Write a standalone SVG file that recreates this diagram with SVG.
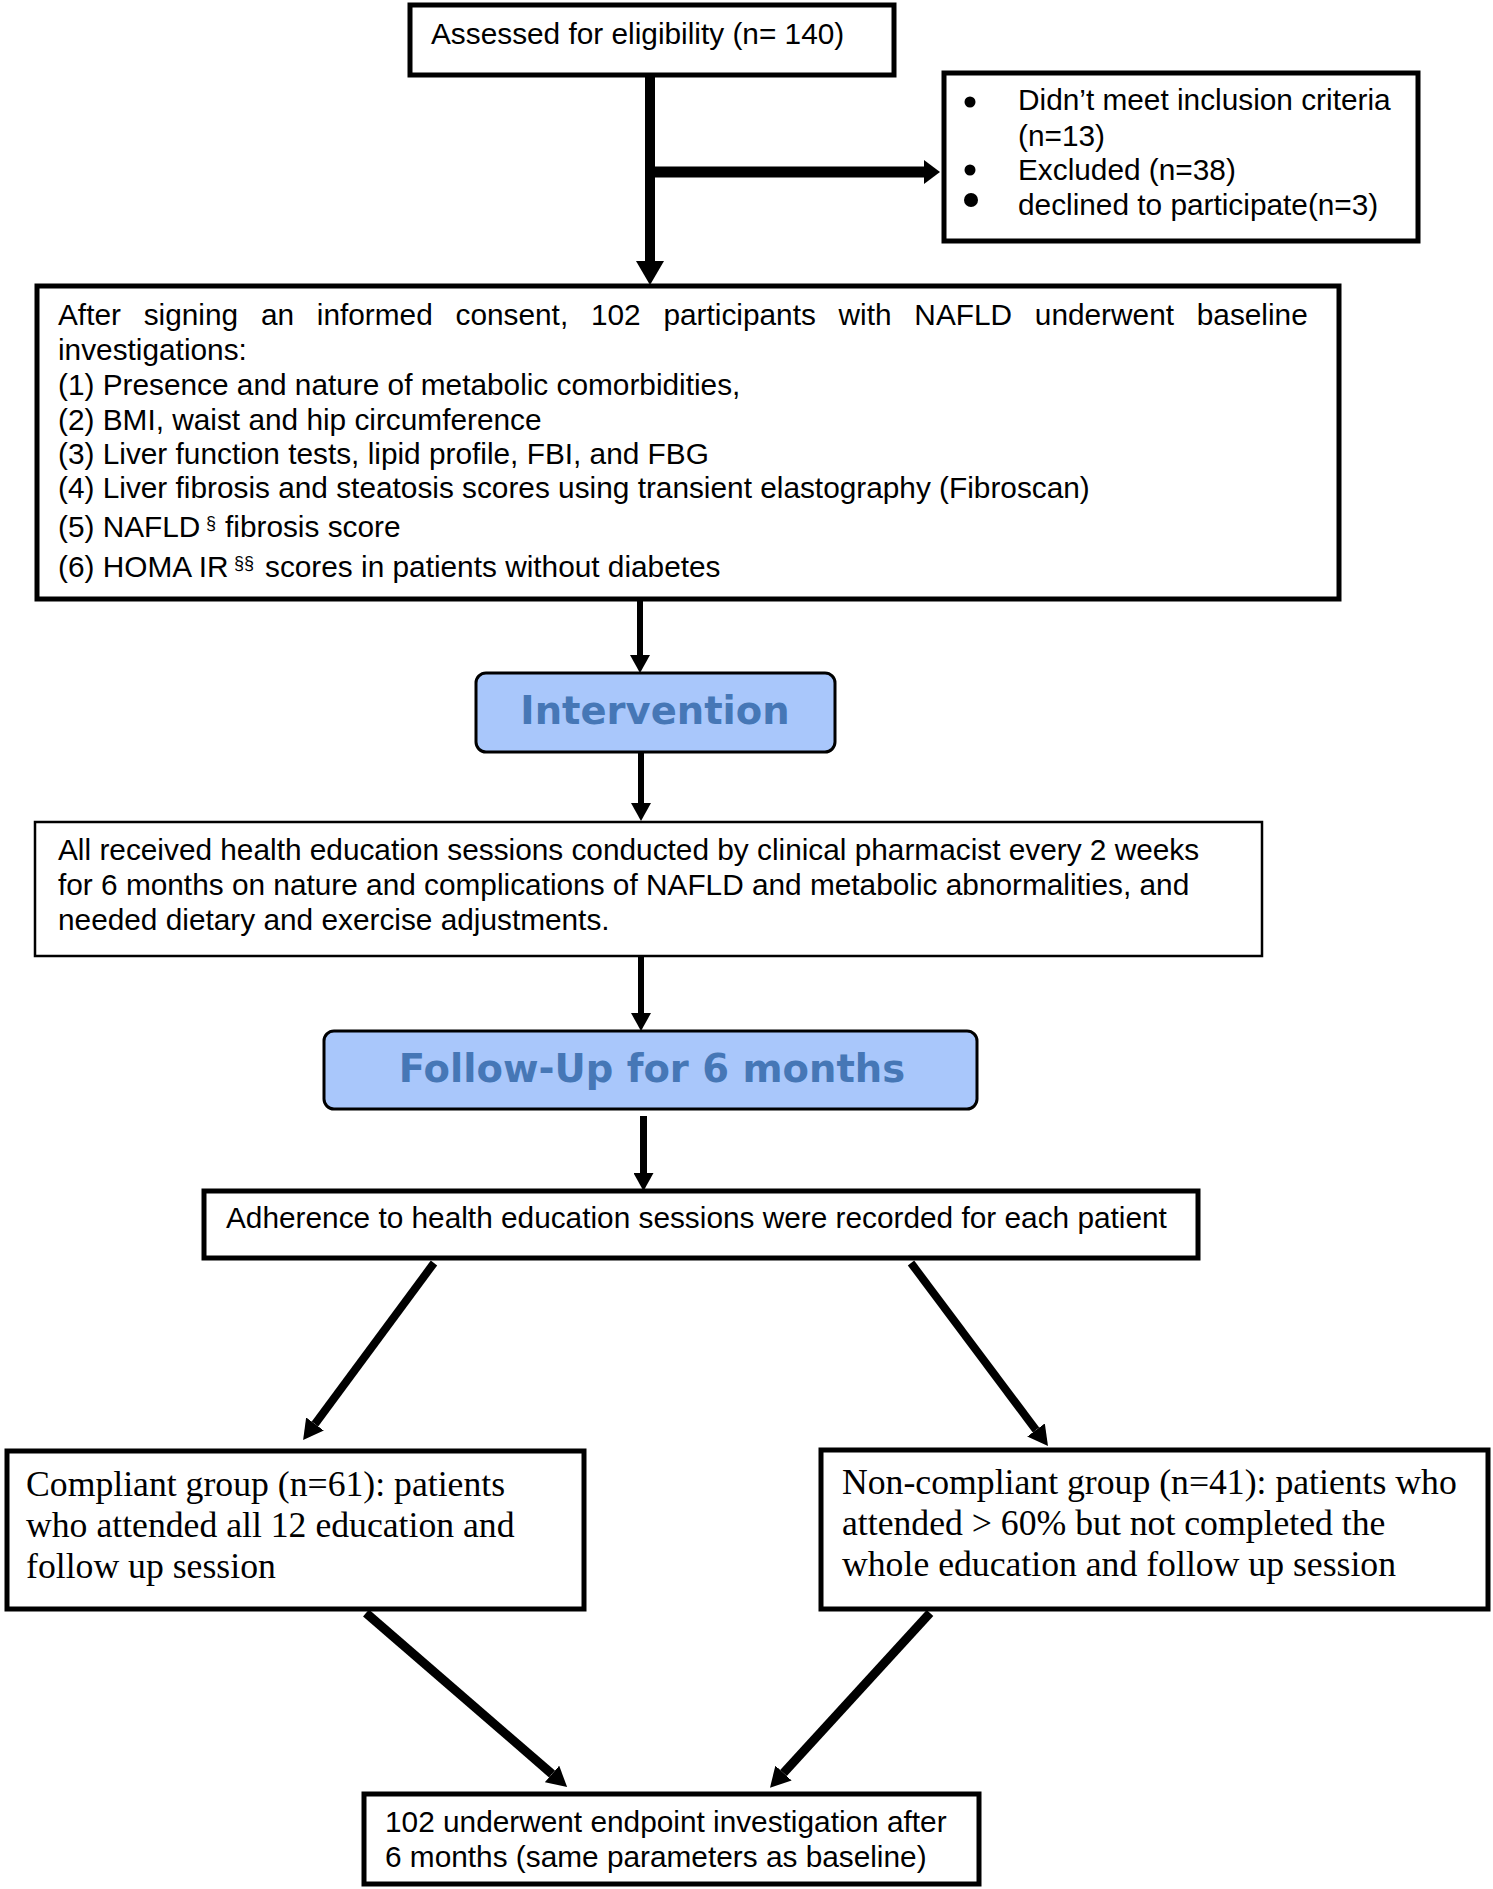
<svg xmlns="http://www.w3.org/2000/svg" width="1493" height="1889" viewBox="0 0 1493 1889">
<defs>
<style>
.box{fill:#fff;stroke:#000;stroke-width:5}
.thin{fill:#fff;stroke:#000;stroke-width:2.5}
.blue{fill:#a9c7fb;stroke:#000;stroke-width:3}
.sans{font-family:"Liberation Sans",Arial,sans-serif;font-size:29.8px;fill:#000}
.serif{font-family:"Liberation Serif","Times New Roman",serif;font-size:35.7px;fill:#000}
.head{font-family:"DejaVu Sans",Verdana,sans-serif;font-weight:bold;font-size:38.5px;fill:#4677b6;text-anchor:middle}
.sup{font-size:18px}
.con{stroke:#000;fill:none}
</style>
<marker id="ahBig" markerUnits="userSpaceOnUse" markerWidth="24" markerHeight="28" refX="0" refY="14" orient="auto"><path d="M0,0 L24,14 L0,28 Z" fill="#000"/></marker>
<marker id="ahSide" markerUnits="userSpaceOnUse" markerWidth="16" markerHeight="24" refX="0" refY="12" orient="auto"><path d="M0,0 L16,12 L0,24 Z" fill="#000"/></marker>
<marker id="ahSmall" markerUnits="userSpaceOnUse" markerWidth="18" markerHeight="20" refX="0" refY="10" orient="auto"><path d="M0,0 L18,10 L0,20 Z" fill="#000"/></marker>
<marker id="ahDiag" markerUnits="userSpaceOnUse" markerWidth="20" markerHeight="22" refX="0" refY="11" orient="auto"><path d="M0,0 L20,11 L0,22 Z" fill="#000"/></marker>
</defs>
<rect width="1493" height="1889" fill="#fff"/>

<g id="connectors">
<line class="con" x1="650" y1="77" x2="650" y2="261" stroke-width="10" marker-end="url(#ahBig)"/>
<line class="con" x1="650" y1="172" x2="924" y2="172" stroke-width="11" marker-end="url(#ahSide)"/>
<line class="con" x1="640" y1="601" x2="640" y2="655" stroke-width="6" marker-end="url(#ahSmall)"/>
<line class="con" x1="641" y1="752" x2="641" y2="803" stroke-width="6" marker-end="url(#ahSmall)"/>
<line class="con" x1="641" y1="957" x2="641" y2="1013" stroke-width="6" marker-end="url(#ahSmall)"/>
<line class="con" x1="643.5" y1="1116" x2="643.5" y2="1173" stroke-width="7" marker-end="url(#ahSmall)"/>
<line class="con" x1="434" y1="1263" x2="315" y2="1424" stroke-width="8" marker-end="url(#ahDiag)"/>
<line class="con" x1="911" y1="1263" x2="1036" y2="1430" stroke-width="8" marker-end="url(#ahDiag)"/>
<line class="con" x1="366" y1="1613" x2="552" y2="1774" stroke-width="9" marker-end="url(#ahDiag)"/>
<line class="con" x1="930" y1="1613" x2="783.5" y2="1773" stroke-width="9" marker-end="url(#ahDiag)"/>
</g>

<g id="assessed">
<rect class="box" x="410" y="5" width="484" height="70"/>
<text class="sans" x="431" y="44">Assessed for eligibility (n= 140)</text>
</g>

<g id="excluded">
<rect class="box" x="944" y="73" width="474" height="168"/>
<circle cx="970" cy="102" r="5.5"/>
<circle cx="970" cy="170" r="5.5"/>
<circle cx="971" cy="200" r="7"/>
<text class="sans" x="1018" y="110">Didn’t meet inclusion criteria</text>
<text class="sans" x="1018" y="146">(n=13)</text>
<text class="sans" x="1018" y="180">Excluded (n=38)</text>
<text class="sans" x="1018" y="215">declined to participate(n=3)</text>
</g>

<g id="baseline">
<rect class="box" x="37" y="286" width="1302" height="313" stroke-width="6"/>
<text class="sans" x="58" y="325" word-spacing="14.5">After signing an informed consent, 102 participants with NAFLD underwent baseline</text>
<text class="sans" x="58" y="360">investigations:</text>
<text class="sans" x="58" y="395">(1) Presence and nature of metabolic comorbidities,</text>
<text class="sans" x="58" y="430">(2) BMI, waist and hip circumference</text>
<text class="sans" x="58" y="464">(3) Liver function tests, lipid profile, FBI, and FBG</text>
<text class="sans" x="58" y="498">(4) Liver fibrosis and steatosis scores using transient elastography (Fibroscan)</text>
<text class="sans" x="58" y="537">(5) NAFLD</text>
<text class="sans sup" x="206" y="529">§</text>
<text class="sans" x="225" y="537">fibrosis score</text>
<text class="sans" x="58" y="577">(6) HOMA IR</text>
<text class="sans sup" x="234" y="569">§§</text>
<text class="sans" x="265" y="577">scores in patients without diabetes</text>
</g>

<g id="intervention">
<rect class="blue" x="476" y="673" width="359" height="79" rx="10"/>
<text class="head" x="655" y="724">Intervention</text>
</g>

<g id="education">
<rect class="thin" x="35" y="822" width="1227" height="134"/>
<text class="sans" x="58" y="860">All received health education sessions conducted by clinical pharmacist every 2 weeks</text>
<text class="sans" x="58" y="895">for 6 months on nature and complications of NAFLD and metabolic abnormalities, and</text>
<text class="sans" x="58" y="930">needed dietary and exercise adjustments.</text>
</g>

<g id="followup">
<rect class="blue" x="324" y="1031" width="653" height="78" rx="10"/>
<text class="head" x="652" y="1082">Follow-Up for 6 months</text>
</g>

<g id="adherence">
<rect class="box" x="204" y="1191" width="994" height="67" stroke-width="6"/>
<text class="sans" x="226" y="1228">Adherence to health education sessions were recorded for each patient</text>
</g>

<g id="compliant">
<rect class="box" x="7" y="1451" width="577" height="158"/>
<text class="serif" x="26" y="1496">Compliant group (n=61): patients</text>
<text class="serif" x="26" y="1537">who attended all 12 education and</text>
<text class="serif" x="26" y="1578">follow up session</text>
</g>

<g id="noncompliant">
<rect class="box" x="821" y="1450" width="667" height="159"/>
<text class="serif" x="842" y="1494">Non-compliant group (n=41): patients who</text>
<text class="serif" x="842" y="1535">attended &gt; 60% but not completed the</text>
<text class="serif" x="842" y="1576">whole education and follow up session</text>
</g>

<g id="endpoint">
<rect class="box" x="364" y="1794" width="615" height="90"/>
<text class="sans" x="385" y="1832">102 underwent endpoint investigation after</text>
<text class="sans" x="385" y="1867">6 months (same parameters as baseline)</text>
</g>
</svg>
